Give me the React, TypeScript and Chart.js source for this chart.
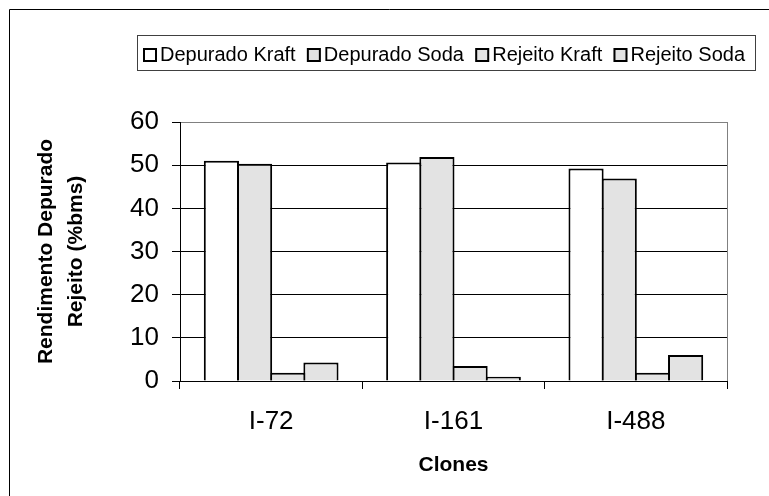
import React, { useEffect, useRef } from 'react';
import { Chart, registerables } from 'chart.js';

Chart.register(...registerables);

// ---- data ----
const categories = ['I-72', 'I-161', 'I-488'];
const seriesNames = ['Depurado Kraft', 'Depurado Soda', 'Rejeito Kraft', 'Rejeito Soda'];
const depuradoKraft = [51.0, 50.6, 49.2];
const depuradoSoda = [50.3, 51.9, 46.9];
const rejeitoKraft = [1.9, 3.5, 1.9];
const rejeitoSoda = [4.3, 1.0, 6.0];
const seriesColors = ['#FFFFFF', '#E3E3E3', '#E3E3E3', '#E3E3E3'];
const yTitle = ['Rendimento Depurado', 'Rejeito (%bms)'];
const xTitle = 'Clones';
const yMin = 0;
const yMax = 60;
const yStep = 10;

const seriesData = [depuradoKraft, depuradoSoda, rejeitoKraft, rejeitoSoda];
const FONT = "'Liberation Sans', Arial, sans-serif";

const framePlugin = {
  id: 'frame',
  beforeDraw(chart: any) {
    const { ctx } = chart;
    ctx.save();
    ctx.fillStyle = '#FFFFFF';
    ctx.fillRect(0, 0, chart.width, chart.height);
    ctx.restore();
  },
  afterDraw(chart: any) {
    const { ctx, chartArea: a } = chart;
    ctx.save();
    // outer chart border (right/bottom lie outside the picture)
    ctx.strokeStyle = '#000';
    ctx.lineWidth = 1;
    ctx.beginPath();
    ctx.moveTo(9.5, chart.height + 5);
    ctx.lineTo(9.5, 9.5);
    ctx.lineTo(chart.width + 5, 9.5);
    ctx.stroke();

    // plot area right border
    ctx.strokeStyle = '#808080';
    const rx = Math.round(a.right - 0.5) + 0.5;
    ctx.beginPath();
    ctx.moveTo(rx, a.top);
    ctx.lineTo(rx, a.bottom);
    ctx.stroke();

    // legend
    const fontSize = 20;
    ctx.font = `${fontSize}px ${FONT}`;
    const box = 14;
    const gapText = 3;
    const startX = 143;
    const endX = 745;
    const widths = seriesNames.map((n) => ctx.measureText(n).width);
    const totalText = widths.reduce((s, w) => s + w, 0);
    const gap = (endX - startX - seriesNames.length * (box + gapText) - totalText) / (seriesNames.length - 1);
    const lTop = 35.5;
    const lBottom = 70.5;
    const lLeft = startX - 5.5;
    const lRight = 755.5;
    ctx.strokeStyle = '#404040';
    ctx.lineWidth = 1;
    ctx.strokeRect(lLeft, lTop, lRight - lLeft, lBottom - lTop);
    let x = startX;
    const cy = 55;
    chart.data.datasets.forEach((ds: any, i: number) => {
      ctx.fillStyle = ds.backgroundColor;
      ctx.fillRect(x, cy - box / 2, box, box);
      ctx.strokeStyle = '#000';
      ctx.lineWidth = 2;
      ctx.strokeRect(x + 1, cy - box / 2 + 1, box - 2, box - 2);
      ctx.fillStyle = '#000';
      ctx.textBaseline = 'alphabetic';
      ctx.textAlign = 'left';
      ctx.fillText(ds.label, x + box + gapText, 61);
      x += box + gapText + widths[i] + gap;
    });
    ctx.restore();
  },
};

export default function App() {
  const ref = useRef<HTMLCanvasElement>(null);
  useEffect(() => {
    const chart = new Chart(ref.current as HTMLCanvasElement, {
      type: 'bar',
      data: {
        labels: categories,
        datasets: seriesNames.map((name, i) => ({
          label: name,
          data: seriesData[i],
          backgroundColor: seriesColors[i],
          borderColor: '#000000',
          borderWidth: 2,
          borderSkipped: 'bottom',
          categoryPercentage: 0.728,
          barPercentage: 1.06,
        })),
      },
      options: {
        responsive: false,
        animation: false,
        events: [],
        layout: { padding: { left: 0, right: 42, top: 122, bottom: 0 } },
        plugins: {
          legend: { display: false },
          tooltip: { enabled: false },
        },
        scales: {
          x: {
            afterFit: (scale: any) => {
              scale.height = 115;
            },
            border: { display: true, color: '#000000', width: 1 },
            grid: {
              display: true,
              drawOnChartArea: false,
              drawTicks: true,
              tickLength: 8,
              offset: true,
              color: '#000000',
            },
            ticks: {
              color: '#000000',
              font: { family: FONT, size: 26, lineHeight: 1.2 },
              padding: 17,
              maxRotation: 0,
              autoSkip: false,
            },
            title: {
              display: true,
              text: xTitle,
              color: '#000000',
              font: { family: FONT, size: 21, weight: 'bold', lineHeight: 1.2 },
              padding: { top: 0, bottom: 18 },
            },
          },
          y: {
            min: yMin,
            max: yMax,
            afterFit: (scale: any) => {
              scale.width = 180;
            },
            border: { display: true, color: '#000000', width: 1 },
            grid: {
              color: (c: any) => (c.tick && c.tick.value === yMax ? '#808080' : '#000000'),
              tickColor: '#000000',
              tickLength: 8,
              lineWidth: 1,
            },
            ticks: {
              stepSize: yStep,
              color: '#000000',
              font: { family: FONT, size: 26, lineHeight: 1.2 },
              padding: 13,
            },
            title: {
              display: true,
              text: yTitle,
              color: '#000000',
              font: { family: FONT, size: 21, weight: 'bold', lineHeight: 1.45 },
              padding: { top: 31, bottom: 0 },
            },
          },
        },
      },
      plugins: [framePlugin],
    } as any);
    return () => chart.destroy();
  }, []);
  return (
    <div style={{ position: 'fixed', left: 0, top: 0, width: 769, height: 496 }}>
      <canvas ref={ref} width={769} height={496} style={{ display: 'block', width: 769, height: 496 }} />
    </div>
  );
}
